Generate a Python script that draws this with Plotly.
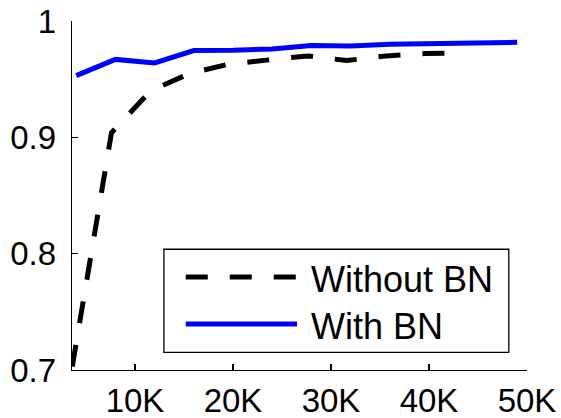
import plotly.graph_objects as go

# Data
iters_without_bn = [3600, 7600, 11600, 15600, 19600, 23600, 27600, 31600, 35600, 39600, 43600]
acc_without_bn = [0.703, 0.904, 0.940, 0.955, 0.963, 0.967, 0.970, 0.966, 0.970, 0.972, 0.9726]

iters_with_bn = [4000, 8000, 12000, 16000, 20000, 24000, 28000, 32000, 36000, 40000, 44000, 49000]
acc_with_bn = [0.953, 0.967, 0.964, 0.9746, 0.9748, 0.976, 0.979, 0.9785, 0.980, 0.9806, 0.9812, 0.9817]

x_tick_vals = [10000, 20000, 30000, 40000, 50000]
x_tick_text = ["10K", "20K", "30K", "40K", "50K"]
y_tick_vals = [0.7, 0.8, 0.9, 1.0]
y_tick_text = ["0.7", "0.8", "0.9", "1"]

legend_names = ["Without BN", "With BN"]

FONT = "Liberation Sans, Arial, Helvetica, sans-serif"

fig = go.Figure()
fig.add_trace(go.Scatter(
    x=iters_without_bn, y=acc_without_bn, mode="lines", name=legend_names[0],
    line=dict(color="black", width=5, dash="22px,22px"), showlegend=False,
))
fig.add_trace(go.Scatter(
    x=iters_with_bn, y=acc_with_bn, mode="lines", name=legend_names[1],
    line=dict(color="#0000ff", width=5), showlegend=False,
))

# Custom legend box (MATLAB style, long line samples)
lx0, lx1, ly0, ly1 = 0.202, 0.960, 0.0507, 0.346
fig.add_shape(type="rect", xref="paper", yref="paper", x0=lx0, x1=lx1, y0=ly0, y1=ly1,
              line=dict(color="black", width=1.3), fillcolor="white", layer="above")
sample_y = [0.2665, 0.1318]
text_y = [0.259, 0.126]
styles = [dict(color="black", width=5, dash="22px,22px"), dict(color="#0000ff", width=5)]
for yy, ty, st, name in zip(sample_y, text_y, styles, legend_names):
    fig.add_shape(type="line", xref="paper", yref="paper", x0=0.250, x1=0.4945, y0=yy, y1=yy,
                  line=st, layer="above")
    fig.add_annotation(xref="paper", yref="paper", x=0.521, y=ty, text=name, showarrow=False,
                       xanchor="left", yanchor="middle", font=dict(family=FONT, size=36, color="black"))

axis_common = dict(
    showline=True, linecolor="black", linewidth=1.3, mirror=False,
    ticks="inside", ticklen=6, tickwidth=1.3, tickcolor="black",
    showgrid=False, zeroline=False, automargin=False, ticklabeloverflow="allow",
    tickfont=dict(family=FONT, size=33, color="black"),
)

fig.update_layout(
    width=561, height=418,
    margin=dict(l=72, r=34, t=21, b=48, autoexpand=False),
    paper_bgcolor="white", plot_bgcolor="white",
    xaxis=dict(range=[3570, 50000], tickvals=x_tick_vals, ticktext=x_tick_text,
               ticklabelstandoff=1, **axis_common),
    yaxis=dict(range=[0.7, 1.0], tickvals=y_tick_vals, ticktext=y_tick_text,
               ticklabelstandoff=8, **axis_common),
    showlegend=False,
    hovermode=False,
)

# remove the browser's default 8px body margin so the figure fills the window
fig.write_html(
    "out.html",
    config={"displayModeBar": False, "staticPlot": True},
    post_script="document.body.style.margin='0';document.body.style.overflow='hidden';",
)
